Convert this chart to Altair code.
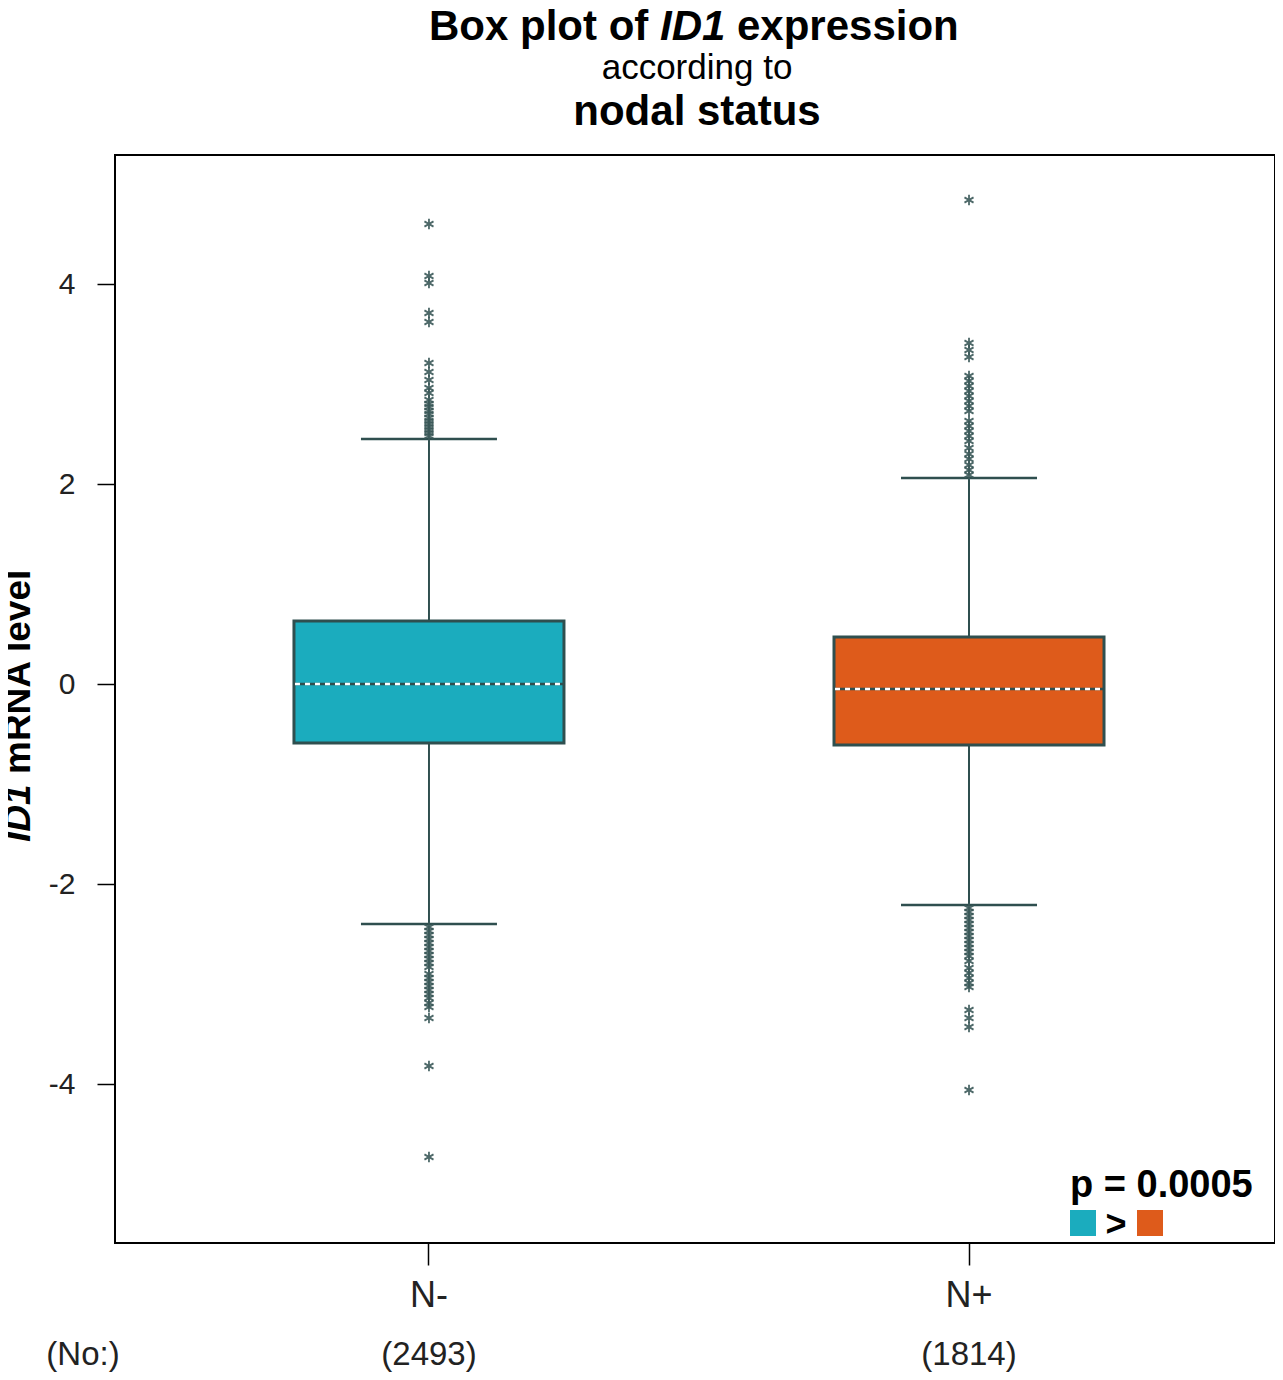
import altair as alt
import pandas as pd

# ---- data ----
groups = ["N-", "N+"]
counts = [2493, 1814]
q1 = [-0.59, -0.61]
median = [0.00, -0.05]
q3 = [0.63, 0.47]
whisker_low = [-2.40, -2.21]
whisker_high = [2.45, 2.06]
outliers_nminus = [4.60, 4.08, 4.01, 3.71, 3.62, 3.21, 3.12, 3.04, 2.96, 2.91,
                   2.84, 2.80, 2.77, 2.73, 2.70, 2.66, 2.63, 2.60, 2.57, 2.54,
                   2.51, 2.48, -2.43, -2.47, -2.51, -2.55, -2.59, -2.63, -2.67,
                   -2.71, -2.75, -2.79, -2.83, -2.90, -2.94, -2.98, -3.02, -3.06,
                   -3.10, -3.14, -3.19, -3.23, -3.34, -3.82, -4.73]
outliers_nplus = [4.84, 3.41, 3.34, 3.27, 3.08, 3.03, 2.98, 2.93, 2.88, 2.83,
                  2.78, 2.73, 2.63, 2.58, 2.53, 2.48, 2.43, 2.36, 2.30, 2.25,
                  2.19, 2.14, 2.09, -2.24, -2.28, -2.32, -2.36, -2.40, -2.44,
                  -2.48, -2.52, -2.56, -2.60, -2.64, -2.68, -2.72, -2.77, -2.84,
                  -2.89, -2.94, -2.99, -3.03, -3.26, -3.34, -3.43, -4.06]
y_ticks = [-4, -2, 0, 2, 4]
colors = ["#1BACBE", "#DE5B1B"]

FONT = "Liberation Sans"
DARK = "#2F4F4F"

stats = pd.DataFrame({
    "group": groups, "n": counts, "q1": q1, "median": median, "q3": q3,
    "lo": whisker_low, "hi": whisker_high,
})
stats["nlabel"] = ["(" + str(c) + ")" for c in counts]

outl = pd.DataFrame({
    "group": ["N-"] * len(outliers_nminus) + ["N+"] * len(outliers_nplus),
    "value": outliers_nminus + outliers_nplus,
})

W, H = 1160, 1088

xenc = alt.X("group:N", sort=groups,
             scale=alt.Scale(domain=groups, paddingInner=0.5, paddingOuter=0.324,
                             align=0.5114),
             axis=alt.Axis(title=None, labelAngle=0, tickSize=22, tickWidth=1.5,
                           tickColor="black", labelFontSize=36, labelPadding=13,
                           labelColor="#222222", domain=False, labelFont=FONT))
yscale = alt.Scale(domain=[-5.59, 5.29], nice=False, zero=False)
yaxis = alt.Axis(title=None, values=y_ticks, tickSize=18, tickWidth=1.5,
                 tickColor="black", labelFontSize=30, labelPadding=22,
                 labelExpr="'' + datum.value",
                 labelColor="#222222", grid=False, domain=False, labelFont=FONT)
color = alt.Color("group:N", scale=alt.Scale(domain=groups, range=colors), legend=None)

base = alt.Chart(stats)

whisk_up = base.mark_rule(color=DARK, strokeWidth=2).encode(
    x=xenc, y=alt.Y("q3:Q", scale=yscale, axis=yaxis), y2="hi:Q")
whisk_dn = base.mark_rule(color=DARK, strokeWidth=2).encode(
    x=xenc, y=alt.Y("q1:Q", scale=yscale, axis=yaxis), y2="lo:Q")
cap_hi = base.mark_tick(color=DARK, size=136, thickness=2.5, opacity=1).encode(
    x=xenc, y=alt.Y("hi:Q", scale=yscale, axis=yaxis))
cap_lo = base.mark_tick(color=DARK, size=136, thickness=2.5, opacity=1).encode(
    x=xenc, y=alt.Y("lo:Q", scale=yscale, axis=yaxis))
box = base.mark_bar(size=270, stroke=DARK, strokeWidth=3, opacity=1).encode(
    x=xenc, y=alt.Y("q1:Q", scale=yscale, axis=yaxis), y2="q3:Q", color=color)
med_dark = base.mark_rule(color=DARK, strokeWidth=2.5, xOffset=-134, x2Offset=134).encode(
    x=xenc, x2="group:N", y=alt.Y("median:Q", scale=yscale, axis=yaxis))
med_white = base.mark_rule(color="white", strokeWidth=2.5, strokeDash=[5, 5],
                           xOffset=-134, x2Offset=134).encode(
    x=xenc, x2="group:N", y=alt.Y("median:Q", scale=yscale, axis=yaxis))

star = "M0,-1L0,1M-0.866,-0.5L0.866,0.5M-0.866,0.5L0.866,-0.5"
pts = alt.Chart(outl).mark_point(shape=star, filled=False, size=110, strokeWidth=1.8,
                                 color="#3b5959", opacity=0.9).encode(
    x=xenc, y=alt.Y("value:Q", scale=yscale, axis=yaxis))

ncount = base.mark_text(fontSize=33, font=FONT, color="#222222", baseline="alphabetic").encode(
    x=xenc, y=alt.value(1210), text="nlabel:N")

one = pd.DataFrame({"a": [0]})


def txt(s, x, y, size, bold=False, italic=False, align="left", angle=0, baseline="alphabetic",
        col="black"):
    kw = dict(text=s, fontSize=size, font=FONT, align=align, baseline=baseline, color=col)
    if bold:
        kw["fontWeight"] = "bold"
    if italic:
        kw["fontStyle"] = "italic"
    if angle:
        kw["angle"] = angle
    return alt.Chart(one).mark_text(**kw).encode(x=alt.value(x), y=alt.value(y))


texts = [
    txt("Box plot of", 314, -115, 42, bold=True),
    txt("ID1", 545, -115, 42, bold=True, italic=True),
    txt("expression", 622, -115, 42, bold=True),
    txt("according to", 582, -76, 35, align="center"),
    txt("nodal status", 582, -30, 42, bold=True, align="center"),
    txt("ID1", -85, 687, 37, bold=True, italic=True, angle=270),
    txt("mRNA level", -85, 619, 37, bold=True, angle=270),
    txt("(No:)", -32, 1210, 33, align="center", col="#222222"),
    txt("p = 0.0005", 955, 1042, 38, bold=True),
    txt(">", 1001, 1081, 36, bold=True, align="center"),
]

sq_teal = alt.Chart(one).mark_point(shape="square", filled=True, size=676, opacity=1,
                                    color=colors[0]).encode(x=alt.value(968), y=alt.value(1068))
sq_orange = alt.Chart(one).mark_point(shape="square", filled=True, size=676, opacity=1,
                                      color=colors[1]).encode(x=alt.value(1035), y=alt.value(1068))

chart = alt.layer(
    whisk_up, whisk_dn, cap_hi, cap_lo, box, med_dark, med_white, pts, ncount,
    *texts, sq_teal, sq_orange,
).properties(
    width=W, height=H,
    autosize=alt.AutoSizeParams(type="none"),
    padding={"left": 107, "top": 147, "right": 0, "bottom": 129},
    background="white",
).configure_view(
    stroke="black", strokeWidth=2
).configure_text(font=FONT)

chart.save("out.html", embed_options={"renderer": "svg", "actions": False})
